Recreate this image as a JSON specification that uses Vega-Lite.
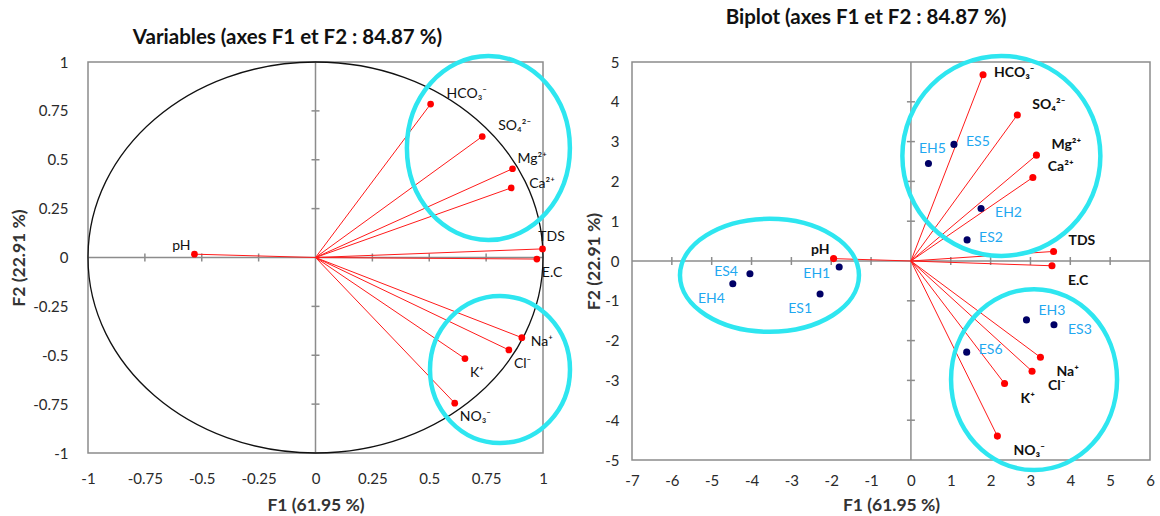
{
  "$schema": "https://vega.github.io/schema/vega-lite/v6.json",
  "background": "white",
  "padding": {"left": 10, "top": 7, "right": 4, "bottom": 0},
  "spacing": 89,
  "bounds": "flush",
  "config": {
    "font": "Lato",
    "view": {"stroke": "#8c8c8c", "strokeWidth": 1.5},
    "axis": {"grid": false, "ticks": false, "domain": false, "labelFontSize": 15, "labelColor": "#2a2a2a", "titleFontSize": 17.5, "titleFontWeight": "bold", "titleColor": "#333333", "labelOverlap": false, "labelFlush": false, "tickCount": 20},
    "title": {"fontSize": 20.5, "fontWeight": "bold", "color": "#111111", "anchor": "middle"},
    "text": {"fontSize": 14, "baseline": "middle", "color": "#111111"}
  },
  "datasets": {
    "origin": [{"F1": 0, "F2": 0}],
    "vl": [
      {"label": "HCO₃⁻", "F1": 0.506, "F2": 0.785},
      {"label": "SO₄²⁻", "F1": 0.733, "F2": 0.619},
      {"label": "Mg²⁺", "F1": 0.866, "F2": 0.454},
      {"label": "Ca²⁺", "F1": 0.86, "F2": 0.356},
      {"label": "TDS", "F1": 0.998, "F2": 0.044},
      {"label": "E.C", "F1": 0.973, "F2": -0.008},
      {"label": "pH", "F1": -0.532, "F2": 0.017},
      {"label": "Na⁺", "F1": 0.907, "F2": -0.41},
      {"label": "Cl⁻", "F1": 0.85, "F2": -0.473},
      {"label": "K⁺", "F1": 0.657, "F2": -0.517},
      {"label": "NO₃⁻", "F1": 0.612, "F2": -0.745}
    ],
    "vr": [
      {"label": "HCO₃⁻", "F1": 1.81, "F2": 4.68},
      {"label": "SO₄²⁻", "F1": 2.67, "F2": 3.67},
      {"label": "Mg²⁺", "F1": 3.15, "F2": 2.66},
      {"label": "Ca²⁺", "F1": 3.06, "F2": 2.1},
      {"label": "TDS", "F1": 3.58, "F2": 0.24},
      {"label": "E.C", "F1": 3.54, "F2": -0.12},
      {"label": "pH", "F1": -1.94, "F2": 0.06},
      {"label": "Na⁺", "F1": 3.25, "F2": -2.42},
      {"label": "Cl⁻", "F1": 3.04, "F2": -2.77},
      {"label": "K⁺", "F1": 2.35, "F2": -3.08},
      {"label": "NO₃⁻", "F1": 2.17, "F2": -4.4}
    ],
    "obs": [
      {"label": "EH1", "F1": -1.8, "F2": -0.15},
      {"label": "ES1", "F1": -2.28, "F2": -0.83},
      {"label": "EH2", "F1": 1.76, "F2": 1.32},
      {"label": "ES2", "F1": 1.41, "F2": 0.53},
      {"label": "EH3", "F1": 2.9, "F2": -1.48},
      {"label": "ES3", "F1": 3.59, "F2": -1.6},
      {"label": "EH4", "F1": -4.47, "F2": -0.57},
      {"label": "ES4", "F1": -4.04, "F2": -0.32},
      {"label": "EH5", "F1": 0.44, "F2": 2.45},
      {"label": "ES5", "F1": 1.08, "F2": 2.93},
      {"label": "ES6", "F1": 1.4, "F2": -2.29}
    ],
    "groups": [
      {"grp": "L1", "F1": 0.76, "F2": 0.56},
      {"grp": "L2", "F1": 0.811, "F2": -0.573},
      {"grp": "R1", "F1": 2.27, "F2": 2.64},
      {"grp": "R2", "F1": -3.55, "F2": -0.36},
      {"grp": "R3", "F1": 3.09, "F2": -2.98}
    ],
    "ticksl": [{"v": -0.75}, {"v": -0.5}, {"v": -0.25}, {"v": 0.25}, {"v": 0.5}, {"v": 0.75}],
    "ticksrx": [{"v": -6}, {"v": -5}, {"v": -4}, {"v": -3}, {"v": -2}, {"v": -1}, {"v": 1}, {"v": 2}, {"v": 3}, {"v": 4}, {"v": 5}],
    "ticksry": [{"v": -4}, {"v": -3}, {"v": -2}, {"v": -1}, {"v": 1}, {"v": 2}, {"v": 3}, {"v": 4}]
  },
  "hconcat": [
    {
      "title": {"text": "Variables (axes F1 et F2 : 84.87 %)", "offset": -1, "dx": -28},
      "width": 455,
      "height": 391,
      "layer": [
        {
          "data": {"name": "origin"},
          "mark": {"type": "rule", "color": "#8c8c8c", "strokeWidth": 1.5},
          "encoding": {"x": {"field": "F1", "type": "quantitative", "scale": {"domain": [-1, 1], "nice": false, "zero": false}, "title": "F1 (61.95 %)",
            "axis": {"values": [-1, -0.75, -0.5, -0.25, 0, 0.25, 0.5, 0.75, 1], "labelExpr": "'' + datum.value", "labelPadding": 18, "titlePadding": 10, "labelOverlap": false, "tickCount": 20}}}
        },
        {
          "data": {"name": "origin"},
          "mark": {"type": "rule", "color": "#8c8c8c", "strokeWidth": 1.5},
          "encoding": {"y": {"field": "F2", "type": "quantitative", "scale": {"domain": [-1, 1], "nice": false, "zero": false}, "title": "F2 (22.91 %)",
            "axis": {"values": [-1, -0.75, -0.5, -0.25, 0, 0.25, 0.5, 0.75, 1], "labelExpr": "'' + datum.value", "labelPadding": 20, "titlePadding": 4, "labelOverlap": false, "tickCount": 20}}}
        },
        {
          "data": {"name": "ticksl"},
          "mark": {"type": "tick", "orient": "vertical", "size": 8, "thickness": 1.5, "color": "#8c8c8c", "opacity": 1},
          "encoding": {"x": {"field": "v", "type": "quantitative", "scale": {"domain": [-1, 1], "nice": false, "zero": false}, "title": "F1 (61.95 %)"}, "y": {"datum": 0}}
        },
        {
          "data": {"name": "ticksl"},
          "mark": {"type": "tick", "orient": "horizontal", "size": 8, "thickness": 1.5, "color": "#8c8c8c", "opacity": 1},
          "encoding": {"y": {"field": "v", "type": "quantitative", "scale": {"domain": [-1, 1], "nice": false, "zero": false}, "title": "F2 (22.91 %)"}, "x": {"datum": 0}}
        },
        {
          "data": {"name": "origin"},
          "mark": {"type": "point", "filled": false, "opacity": 1, "color": "#111111", "strokeWidth": 1.3, "size": 207025,
            "shape": "M1,0C1,0.4746 0.5523,0.8593 0,0.8593C-0.5523,0.8593 -1,0.4746 -1,0C-1,-0.4746 -0.5523,-0.8593 0,-0.8593C0.5523,-0.8593 1,-0.4746 1,0Z"},
          "encoding": {"x": {"field": "F1", "type": "quantitative", "title": "F1 (61.95 %)"}, "y": {"field": "F2", "type": "quantitative", "title": "F2 (22.91 %)"}}
        },
        {
          "data": {"name": "vl"},
          "mark": {"type": "rule", "color": "#ff1a1a", "strokeWidth": 1},
          "encoding": {"x": {"field": "F1", "type": "quantitative", "title": "F1 (61.95 %)"}, "y": {"field": "F2", "type": "quantitative", "title": "F2 (22.91 %)"}, "x2": {"datum": 0}, "y2": {"datum": 0}}
        },
        {
          "data": {"name": "vl"},
          "mark": {"type": "point", "filled": true, "opacity": 1, "color": "#ff0000", "size": 45},
          "encoding": {"x": {"field": "F1", "type": "quantitative", "title": "F1 (61.95 %)"}, "y": {"field": "F2", "type": "quantitative", "title": "F2 (22.91 %)"}}
        },
        {
          "data": {"name": "vl"},
          "transform": [{"filter": {"field": "label", "oneOf": ["HCO₃⁻", "SO₄²⁻"]}}],
          "mark": {"type": "text", "align": "left", "dx": 16, "dy": -10},
          "encoding": {"x": {"field": "F1", "type": "quantitative", "title": "F1 (61.95 %)"}, "y": {"field": "F2", "type": "quantitative", "title": "F2 (22.91 %)"}, "text": {"field": "label"}}
        },
        {
          "data": {"name": "vl"},
          "transform": [{"filter": {"field": "label", "oneOf": ["Mg²⁺"]}}],
          "mark": {"type": "text", "align": "left", "dx": 5, "dy": -10},
          "encoding": {"x": {"field": "F1", "type": "quantitative", "title": "F1 (61.95 %)"}, "y": {"field": "F2", "type": "quantitative", "title": "F2 (22.91 %)"}, "text": {"field": "label"}}
        },
        {
          "data": {"name": "vl"},
          "transform": [{"filter": {"field": "label", "oneOf": ["Ca²⁺"]}}],
          "mark": {"type": "text", "align": "left", "dx": 18, "dy": -4},
          "encoding": {"x": {"field": "F1", "type": "quantitative", "title": "F1 (61.95 %)"}, "y": {"field": "F2", "type": "quantitative", "title": "F2 (22.91 %)"}, "text": {"field": "label"}}
        },
        {
          "data": {"name": "vl"},
          "transform": [{"filter": {"field": "label", "oneOf": ["Na⁺"]}}],
          "mark": {"type": "text", "align": "left", "dx": 9, "dy": 4},
          "encoding": {"x": {"field": "F1", "type": "quantitative", "title": "F1 (61.95 %)"}, "y": {"field": "F2", "type": "quantitative", "title": "F2 (22.91 %)"}, "text": {"field": "label"}}
        },
        {
          "data": {"name": "vl"},
          "transform": [{"filter": {"field": "label", "oneOf": ["TDS"]}}],
          "mark": {"type": "text", "align": "center", "dx": 9, "dy": -12},
          "encoding": {"x": {"field": "F1", "type": "quantitative", "title": "F1 (61.95 %)"}, "y": {"field": "F2", "type": "quantitative", "title": "F2 (22.91 %)"}, "text": {"field": "label"}}
        },
        {
          "data": {"name": "vl"},
          "transform": [{"filter": {"field": "label", "oneOf": ["E.C", "Cl⁻", "K⁺", "NO₃⁻"]}}],
          "mark": {"type": "text", "align": "left", "dx": 5, "dy": 14},
          "encoding": {"x": {"field": "F1", "type": "quantitative", "title": "F1 (61.95 %)"}, "y": {"field": "F2", "type": "quantitative", "title": "F2 (22.91 %)"}, "text": {"field": "label"}}
        },
        {
          "data": {"name": "vl"},
          "transform": [{"filter": {"field": "label", "oneOf": ["pH"]}}],
          "mark": {"type": "text", "align": "right", "dx": -4, "dy": -8},
          "encoding": {"x": {"field": "F1", "type": "quantitative", "title": "F1 (61.95 %)"}, "y": {"field": "F2", "type": "quantitative", "title": "F2 (22.91 %)"}, "text": {"field": "label"}}
        },
        {
          "data": {"name": "groups"},
          "transform": [{"filter": {"field": "grp", "equal": "L1"}}],
          "mark": {"type": "point", "filled": false, "opacity": 1, "color": "#2ee6f0", "strokeWidth": 4.5, "size": 26569,
            "shape": "M1,0C1,0.6235 0.5523,1.129 0,1.129C-0.5523,1.129 -1,0.6235 -1,0C-1,-0.6235 -0.5523,-1.129 0,-1.129C0.5523,-1.129 1,-0.6235 1,0Z"},
          "encoding": {"x": {"field": "F1", "type": "quantitative", "title": "F1 (61.95 %)"}, "y": {"field": "F2", "type": "quantitative", "title": "F2 (22.91 %)"}}
        },
        {
          "data": {"name": "groups"},
          "transform": [{"filter": {"field": "grp", "equal": "L2"}}],
          "mark": {"type": "point", "filled": false, "opacity": 1, "color": "#2ee6f0", "strokeWidth": 4.5, "size": 19600,
            "shape": "M1,0C1,0.5799 0.5523,1.05 0,1.05C-0.5523,1.05 -1,0.5799 -1,0C-1,-0.5799 -0.5523,-1.05 0,-1.05C0.5523,-1.05 1,-0.5799 1,0Z"},
          "encoding": {"x": {"field": "F1", "type": "quantitative", "title": "F1 (61.95 %)"}, "y": {"field": "F2", "type": "quantitative", "title": "F2 (22.91 %)"}}
        }
      ]
    },
    {
      "title": {"text": "Biplot (axes F1 et F2 : 84.87 %)", "offset": 18, "dx": -25},
      "width": 518,
      "height": 398,
      "layer": [
        {
          "data": {"name": "origin"},
          "mark": {"type": "rule", "color": "#8c8c8c", "strokeWidth": 1.5},
          "encoding": {"x": {"field": "F1", "type": "quantitative", "scale": {"domain": [-7, 6], "nice": false, "zero": false}, "title": "F1 (61.95 %)",
            "axis": {"values": [-7, -6, -5, -4, -3, -2, -1, 0, 1, 2, 3, 4, 5, 6], "labelExpr": "'' + datum.value", "labelPadding": 13, "titlePadding": 8, "labelOverlap": false, "tickCount": 20}}}
        },
        {
          "data": {"name": "origin"},
          "mark": {"type": "rule", "color": "#8c8c8c", "strokeWidth": 1.5},
          "encoding": {"y": {"field": "F2", "type": "quantitative", "scale": {"domain": [-5, 5], "nice": false, "zero": false}, "title": "F2 (22.91 %)",
            "axis": {"values": [-5, -4, -3, -2, -1, 0, 1, 2, 3, 4, 5], "labelExpr": "'' + datum.value", "labelPadding": 13, "titlePadding": 1, "labelOverlap": false, "tickCount": 20}}}
        },
        {
          "data": {"name": "ticksrx"},
          "mark": {"type": "tick", "orient": "vertical", "size": 8, "thickness": 1.5, "color": "#8c8c8c", "opacity": 1},
          "encoding": {"x": {"field": "v", "type": "quantitative", "scale": {"domain": [-7, 6], "nice": false, "zero": false}, "title": "F1 (61.95 %)"}, "y": {"datum": 0}}
        },
        {
          "data": {"name": "ticksry"},
          "mark": {"type": "tick", "orient": "horizontal", "size": 8, "thickness": 1.5, "color": "#8c8c8c", "opacity": 1},
          "encoding": {"y": {"field": "v", "type": "quantitative", "scale": {"domain": [-5, 5], "nice": false, "zero": false}, "title": "F2 (22.91 %)"}, "x": {"datum": 0}}
        },
        {
          "data": {"name": "vr"},
          "mark": {"type": "rule", "color": "#ff1a1a", "strokeWidth": 1},
          "encoding": {"x": {"field": "F1", "type": "quantitative", "title": "F1 (61.95 %)"}, "y": {"field": "F2", "type": "quantitative", "title": "F2 (22.91 %)"}, "x2": {"datum": 0}, "y2": {"datum": 0}}
        },
        {
          "data": {"name": "vr"},
          "mark": {"type": "point", "filled": true, "opacity": 1, "color": "#ff0000", "size": 50},
          "encoding": {"x": {"field": "F1", "type": "quantitative", "title": "F1 (61.95 %)"}, "y": {"field": "F2", "type": "quantitative", "title": "F2 (22.91 %)"}}
        },
        {
          "data": {"name": "obs"},
          "mark": {"type": "point", "filled": true, "opacity": 1, "color": "#000066", "size": 50},
          "encoding": {"x": {"field": "F1", "type": "quantitative", "title": "F1 (61.95 %)"}, "y": {"field": "F2", "type": "quantitative", "title": "F2 (22.91 %)"}}
        },
        {
          "data": {"name": "vr"},
          "transform": [{"filter": {"field": "label", "oneOf": ["HCO₃⁻"]}}],
          "mark": {"type": "text", "align": "left", "dx": 11, "dy": -2, "fontWeight": "bold"},
          "encoding": {"x": {"field": "F1", "type": "quantitative", "title": "F1 (61.95 %)"}, "y": {"field": "F2", "type": "quantitative", "title": "F2 (22.91 %)"}, "text": {"field": "label"}}
        },
        {
          "data": {"name": "vr"},
          "transform": [{"filter": {"field": "label", "oneOf": ["SO₄²⁻", "Mg²⁺", "Ca²⁺", "TDS"]}}],
          "mark": {"type": "text", "align": "left", "dx": 15, "dy": -10, "fontWeight": "bold"},
          "encoding": {"x": {"field": "F1", "type": "quantitative", "title": "F1 (61.95 %)"}, "y": {"field": "F2", "type": "quantitative", "title": "F2 (22.91 %)"}, "text": {"field": "label"}}
        },
        {
          "data": {"name": "vr"},
          "transform": [{"filter": {"field": "label", "oneOf": ["E.C", "Na⁺", "Cl⁻", "K⁺", "NO₃⁻"]}}],
          "mark": {"type": "text", "align": "left", "dx": 16, "dy": 15, "fontWeight": "bold"},
          "encoding": {"x": {"field": "F1", "type": "quantitative", "title": "F1 (61.95 %)"}, "y": {"field": "F2", "type": "quantitative", "title": "F2 (22.91 %)"}, "text": {"field": "label"}}
        },
        {
          "data": {"name": "vr"},
          "transform": [{"filter": {"field": "label", "oneOf": ["pH"]}}],
          "mark": {"type": "text", "align": "right", "dx": -4, "dy": -9, "fontWeight": "bold"},
          "encoding": {"x": {"field": "F1", "type": "quantitative", "title": "F1 (61.95 %)"}, "y": {"field": "F2", "type": "quantitative", "title": "F2 (22.91 %)"}, "text": {"field": "label"}}
        },
        {
          "data": {"name": "obs"},
          "transform": [{"filter": {"field": "label", "oneOf": ["ES5", "ES2", "ES6"]}}],
          "mark": {"type": "text", "align": "left", "dx": 12, "dy": -2, "color": "#1fa8f0"},
          "encoding": {"x": {"field": "F1", "type": "quantitative", "title": "F1 (61.95 %)"}, "y": {"field": "F2", "type": "quantitative", "title": "F2 (22.91 %)"}, "text": {"field": "label"}}
        },
        {
          "data": {"name": "obs"},
          "transform": [{"filter": {"field": "label", "oneOf": ["EH2", "ES3"]}}],
          "mark": {"type": "text", "align": "left", "dx": 14, "dy": 5, "color": "#1fa8f0"},
          "encoding": {"x": {"field": "F1", "type": "quantitative", "title": "F1 (61.95 %)"}, "y": {"field": "F2", "type": "quantitative", "title": "F2 (22.91 %)"}, "text": {"field": "label"}}
        },
        {
          "data": {"name": "obs"},
          "transform": [{"filter": {"field": "label", "oneOf": ["EH3"]}}],
          "mark": {"type": "text", "align": "left", "dx": 12, "dy": -9, "color": "#1fa8f0"},
          "encoding": {"x": {"field": "F1", "type": "quantitative", "title": "F1 (61.95 %)"}, "y": {"field": "F2", "type": "quantitative", "title": "F2 (22.91 %)"}, "text": {"field": "label"}}
        },
        {
          "data": {"name": "obs"},
          "transform": [{"filter": {"field": "label", "oneOf": ["EH5"]}}],
          "mark": {"type": "text", "align": "center", "dx": 4, "dy": -14, "color": "#1fa8f0"},
          "encoding": {"x": {"field": "F1", "type": "quantitative", "title": "F1 (61.95 %)"}, "y": {"field": "F2", "type": "quantitative", "title": "F2 (22.91 %)"}, "text": {"field": "label"}}
        },
        {
          "data": {"name": "obs"},
          "transform": [{"filter": {"field": "label", "oneOf": ["ES4"]}}],
          "mark": {"type": "text", "align": "right", "dx": -12, "dy": -2, "color": "#1fa8f0"},
          "encoding": {"x": {"field": "F1", "type": "quantitative", "title": "F1 (61.95 %)"}, "y": {"field": "F2", "type": "quantitative", "title": "F2 (22.91 %)"}, "text": {"field": "label"}}
        },
        {
          "data": {"name": "obs"},
          "transform": [{"filter": {"field": "label", "oneOf": ["EH1"]}}],
          "mark": {"type": "text", "align": "right", "dx": -9, "dy": 7, "color": "#1fa8f0"},
          "encoding": {"x": {"field": "F1", "type": "quantitative", "title": "F1 (61.95 %)"}, "y": {"field": "F2", "type": "quantitative", "title": "F2 (22.91 %)"}, "text": {"field": "label"}}
        },
        {
          "data": {"name": "obs"},
          "transform": [{"filter": {"field": "label", "oneOf": ["EH4", "ES1"]}}],
          "mark": {"type": "text", "align": "right", "dx": -8, "dy": 15, "color": "#1fa8f0"},
          "encoding": {"x": {"field": "F1", "type": "quantitative", "title": "F1 (61.95 %)"}, "y": {"field": "F2", "type": "quantitative", "title": "F2 (22.91 %)"}, "text": {"field": "label"}}
        },
        {
          "data": {"name": "groups"},
          "transform": [{"filter": {"field": "grp", "equal": "R1"}}],
          "mark": {"type": "point", "filled": false, "opacity": 1, "color": "#2ee6f0", "strokeWidth": 4.5, "size": 39204,
            "shape": "M1,0C1,0.5578 0.5523,1.01 0,1.01C-0.5523,1.01 -1,0.5578 -1,0C-1,-0.5578 -0.5523,-1.01 0,-1.01C0.5523,-1.01 1,-0.5578 1,0Z"},
          "encoding": {"x": {"field": "F1", "type": "quantitative", "title": "F1 (61.95 %)"}, "y": {"field": "F2", "type": "quantitative", "title": "F2 (22.91 %)"}}
        },
        {
          "data": {"name": "groups"},
          "transform": [{"filter": {"field": "grp", "equal": "R2"}}],
          "mark": {"type": "point", "filled": false, "opacity": 1, "color": "#2ee6f0", "strokeWidth": 4.5, "size": 32041,
            "shape": "M1,0C1,0.3486 0.5523,0.631 0,0.631C-0.5523,0.631 -1,0.3486 -1,0C-1,-0.3486 -0.5523,-0.631 0,-0.631C0.5523,-0.631 1,-0.3486 1,0Z"},
          "encoding": {"x": {"field": "F1", "type": "quantitative", "title": "F1 (61.95 %)"}, "y": {"field": "F2", "type": "quantitative", "title": "F2 (22.91 %)"}}
        },
        {
          "data": {"name": "groups"},
          "transform": [{"filter": {"field": "grp", "equal": "R3"}}],
          "mark": {"type": "point", "filled": false, "opacity": 1, "color": "#2ee6f0", "strokeWidth": 4.5, "size": 27556,
            "shape": "M1,0C1,0.602 0.5523,1.09 0,1.09C-0.5523,1.09 -1,0.602 -1,0C-1,-0.602 -0.5523,-1.09 0,-1.09C0.5523,-1.09 1,-0.602 1,0Z"},
          "encoding": {"x": {"field": "F1", "type": "quantitative", "title": "F1 (61.95 %)"}, "y": {"field": "F2", "type": "quantitative", "title": "F2 (22.91 %)"}}
        }
      ]
    }
  ]
}
